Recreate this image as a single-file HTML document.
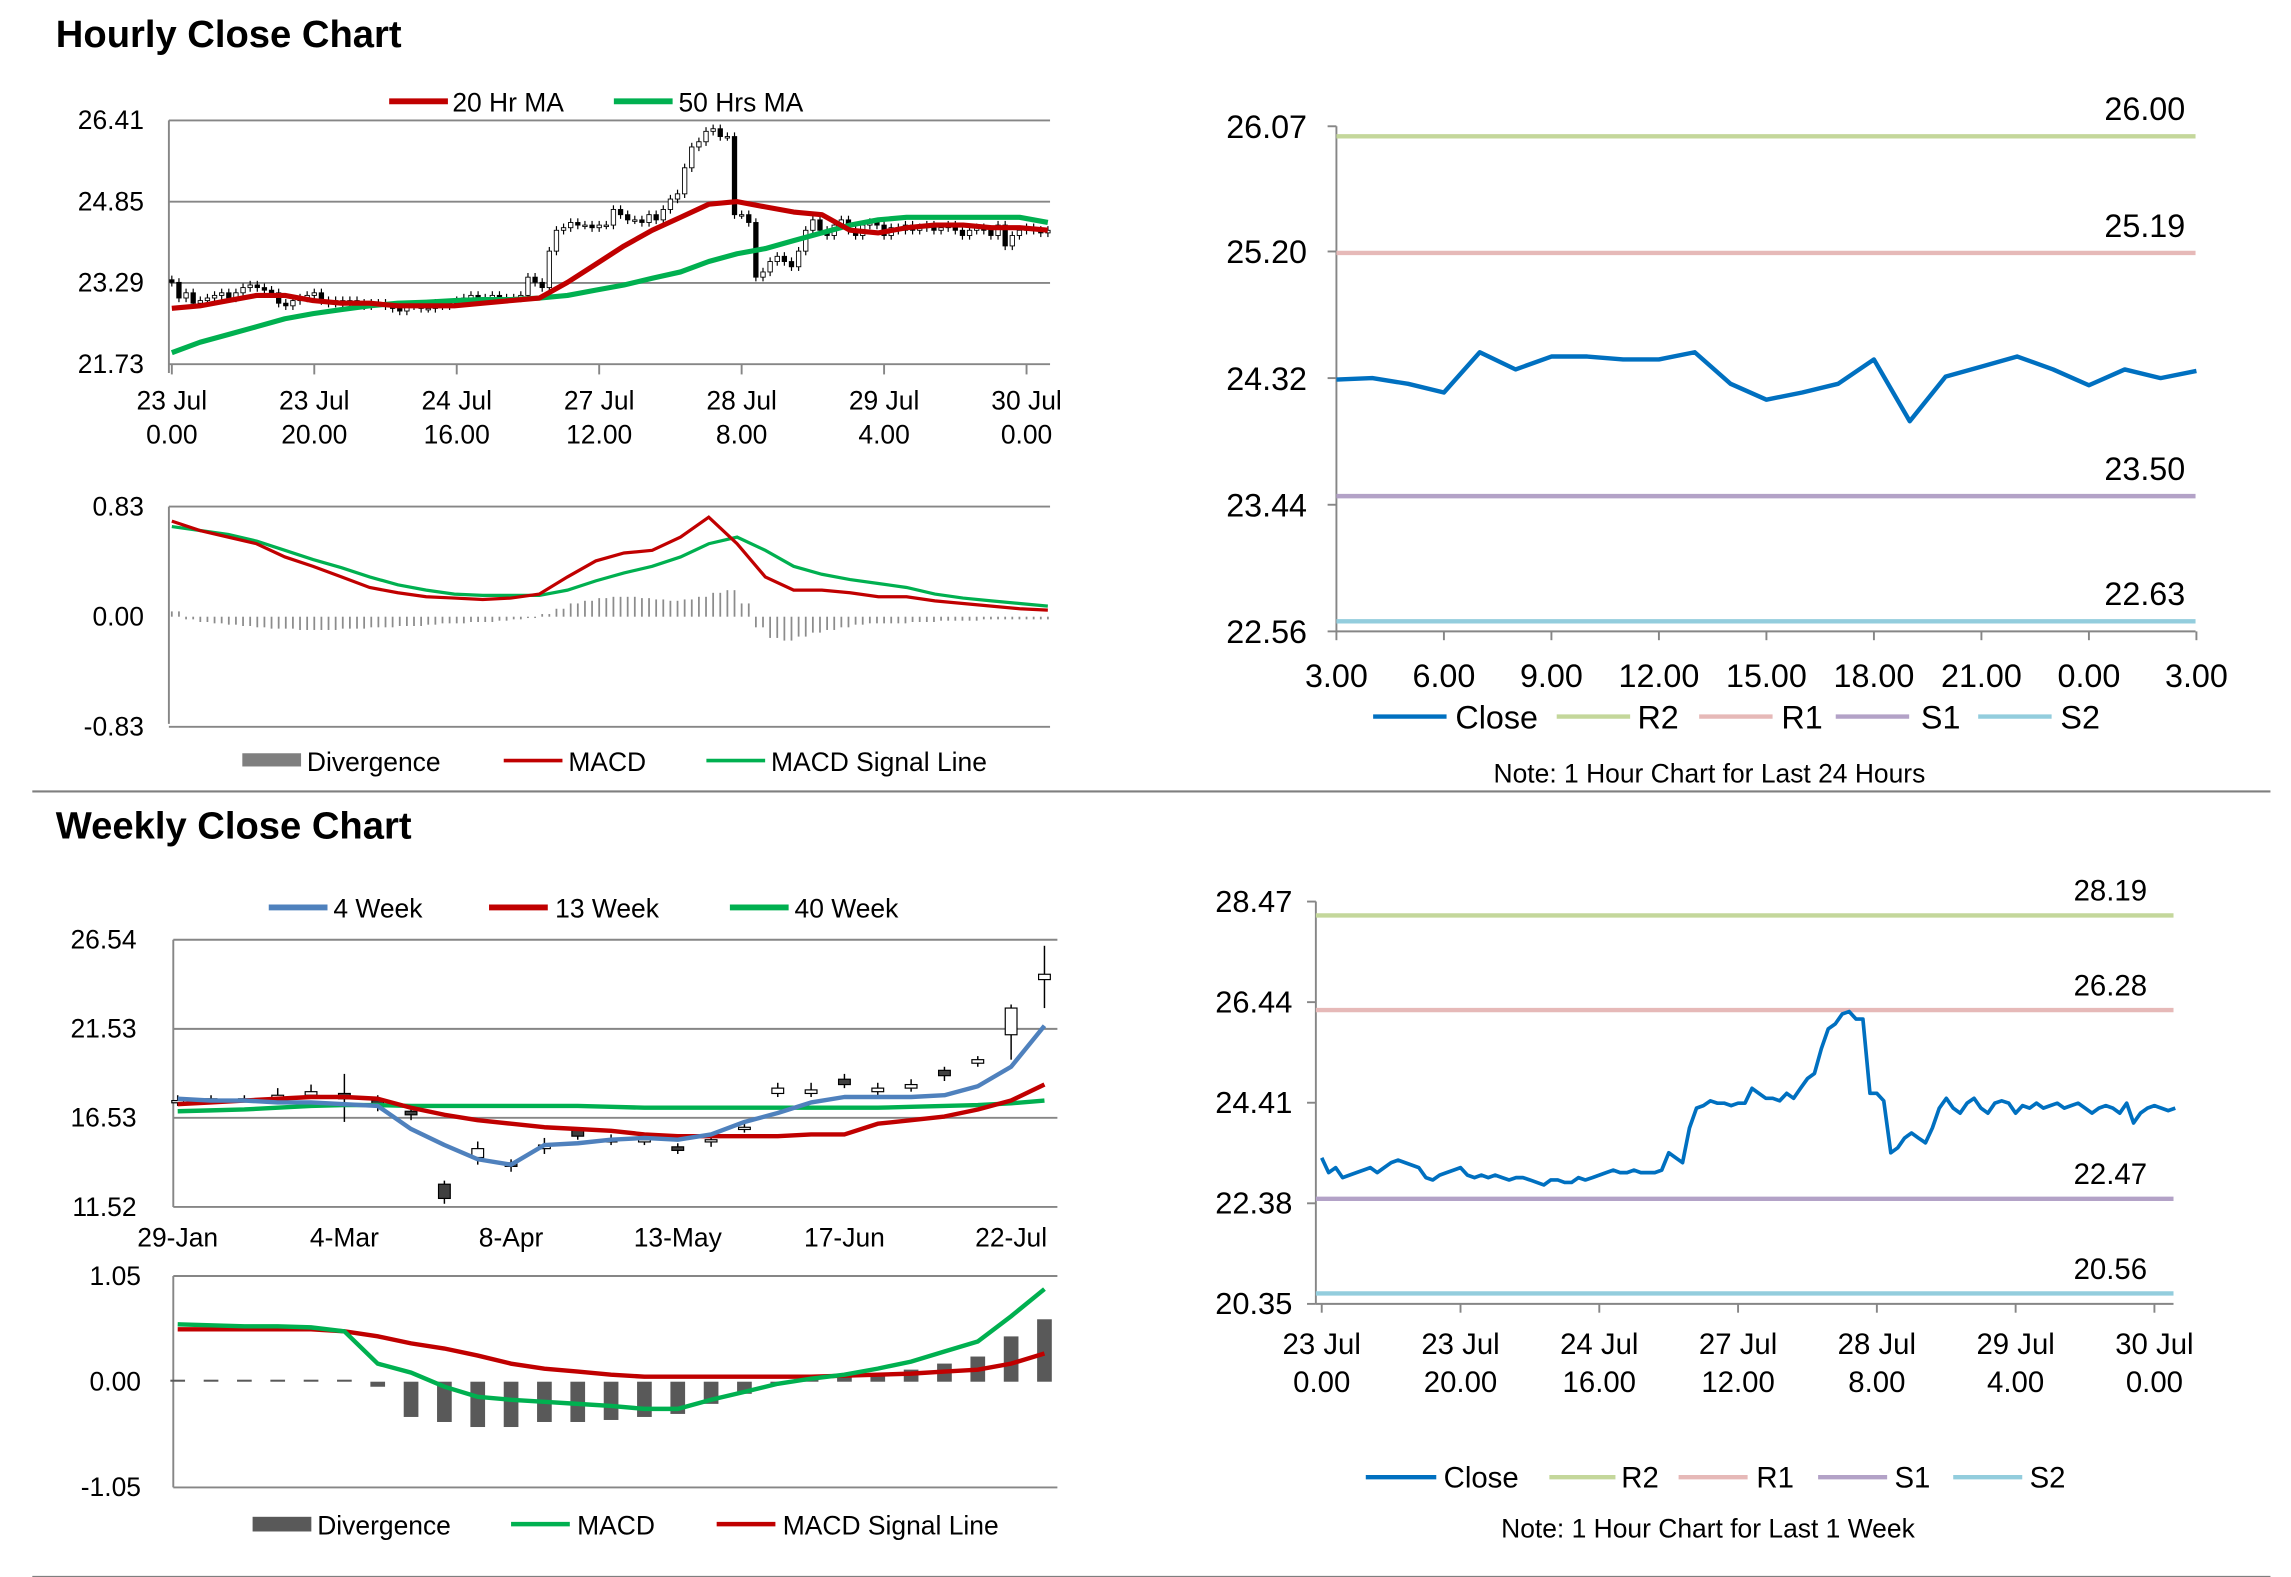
<!DOCTYPE html>
<html><head><meta charset="utf-8"><title>Close Charts</title>
<style>
html,body{margin:0;padding:0;background:#fff;}
svg{display:block;}
text{font-family:"Liberation Sans",sans-serif;fill:#000;}
</style></head>
<body>
<svg id="main" width="2291" height="1577" viewBox="0 0 1560 1074" preserveAspectRatio="none" xmlns="http://www.w3.org/2000/svg">
<rect x="0" y="0" width="1560" height="1074" fill="#fff"/>
<text x="38" y="32" font-size="26" font-weight="bold">Hourly Close Chart</text>
<text x="38" y="571" font-size="26" font-weight="bold">Weekly Close Chart</text>
<line x1="22" y1="539" x2="1546" y2="539" stroke="#7f7f7f" stroke-width="1.5"/>
<line x1="22" y1="1074" x2="1546" y2="1074" stroke="#7f7f7f" stroke-width="1.5"/>

<g>
<line x1="265" y1="69" x2="305" y2="69" stroke="#c00000" stroke-width="4"/><text x="308" y="76" font-size="18">20 Hr MA</text>
<line x1="418" y1="69" x2="458" y2="69" stroke="#00b050" stroke-width="4"/><text x="462" y="76" font-size="18">50 Hrs MA</text>
</g>
<g>
<rect x="165" y="513" width="40" height="9" fill="#7f7f7f"/><text x="209" y="525" font-size="18">Divergence</text>
<line x1="343" y1="518" x2="383" y2="518" stroke="#c00000" stroke-width="2.5"/><text x="387" y="525" font-size="18">MACD</text>
<line x1="481" y1="518" x2="521" y2="518" stroke="#00b050" stroke-width="2.5"/><text x="525" y="525" font-size="18">MACD Signal Line</text>
</g>
<g font-size="22">
<line x1="935" y1="488" x2="985" y2="488" stroke="#0070c0" stroke-width="3"/><text x="991" y="496">Close</text>
<line x1="1060" y1="488" x2="1110" y2="488" stroke="#c4d79b" stroke-width="3"/><text x="1115" y="496">R2</text>
<line x1="1157" y1="488" x2="1207" y2="488" stroke="#e6b9b8" stroke-width="3"/><text x="1213" y="496">R1</text>
<line x1="1250" y1="488" x2="1300" y2="488" stroke="#b3a2c7" stroke-width="3"/><text x="1308" y="496">S1</text>
<line x1="1347" y1="488" x2="1397" y2="488" stroke="#93cddd" stroke-width="3"/><text x="1403" y="496">S2</text>
</g>
<text x="1164" y="533" font-size="18" text-anchor="middle">Note: 1 Hour Chart for Last 24 Hours</text>

<g>
<line x1="183" y1="618" x2="223" y2="618" stroke="#4f81bd" stroke-width="4"/><text x="227" y="625" font-size="18">4 Week</text>
<line x1="333" y1="618" x2="373" y2="618" stroke="#c00000" stroke-width="4"/><text x="378" y="625" font-size="18">13 Week</text>
<line x1="497" y1="618" x2="537" y2="618" stroke="#00b050" stroke-width="4"/><text x="541" y="625" font-size="18">40 Week</text>
</g>
<g>
<rect x="172" y="1033" width="40" height="10" fill="#595959"/><text x="216" y="1045" font-size="18">Divergence</text>
<line x1="348" y1="1038" x2="388" y2="1038" stroke="#00b050" stroke-width="3"/><text x="393" y="1045" font-size="18">MACD</text>
<line x1="488" y1="1038" x2="528" y2="1038" stroke="#c00000" stroke-width="3"/><text x="533" y="1045" font-size="18">MACD Signal Line</text>
</g>
<g font-size="20">
<line x1="930" y1="1006" x2="978" y2="1006" stroke="#0070c0" stroke-width="3"/><text x="983" y="1013">Close</text>
<line x1="1055" y1="1006" x2="1100" y2="1006" stroke="#c4d79b" stroke-width="3"/><text x="1104" y="1013">R2</text>
<line x1="1143" y1="1006" x2="1190" y2="1006" stroke="#e6b9b8" stroke-width="3"/><text x="1196" y="1013">R1</text>
<line x1="1238" y1="1006" x2="1285" y2="1006" stroke="#b3a2c7" stroke-width="3"/><text x="1290" y="1013">S1</text>
<line x1="1330" y1="1006" x2="1377" y2="1006" stroke="#93cddd" stroke-width="3"/><text x="1382" y="1013">S2</text>
</g>
<text x="1163" y="1047" font-size="18" text-anchor="middle">Note: 1 Hour Chart for Last 1 Week</text>
</svg>
<script>
// ---------- data ----------
const hourLabels1 = ["23 Jul","23 Jul","24 Jul","27 Jul","28 Jul","29 Jul","30 Jul"];
const hourLabels2 = ["0.00","20.00","16.00","12.00","8.00","4.00","0.00"];
const hourlyClose = [23.3,23.0,23.1,22.9,22.95,23.0,23.05,23.1,23.0,23.1,
23.2,23.25,23.2,23.15,23.1,22.9,22.85,22.95,23.0,23.05,
23.1,22.95,22.9,22.95,22.9,22.95,22.9,22.85,22.9,22.9,
22.85,22.8,22.75,22.85,22.85,22.8,22.8,22.9,22.85,22.9,
22.95,23.0,23.05,23.0,23.0,23.05,23.0,23.0,23.0,23.05,
23.4,23.3,23.2,23.9,24.3,24.35,24.45,24.4,24.4,24.35,
24.4,24.4,24.7,24.6,24.5,24.5,24.45,24.6,24.5,24.7,
24.9,25.0,25.5,25.9,26.0,26.2,26.25,26.1,26.1,24.6,
24.6,24.45,23.4,23.5,23.7,23.8,23.7,23.6,23.9,24.3,
24.5,24.3,24.2,24.4,24.5,24.3,24.2,24.4,24.45,24.4,
24.2,24.35,24.3,24.4,24.3,24.35,24.4,24.3,24.35,24.4,
24.3,24.2,24.3,24.35,24.3,24.2,24.4,24.0,24.2,24.3,
24.35,24.3,24.25,24.3];
const ma20 = [22.8,22.85,22.95,23.05,23.05,22.95,22.9,22.9,22.85,22.85,22.85,22.9,22.95,23.0,23.3,23.65,24.0,24.3,24.55,24.8,24.85,24.75,24.65,24.6,24.3,24.25,24.35,24.4,24.4,24.35,24.35,24.3];
const ma50 = [21.95,22.15,22.3,22.45,22.6,22.7,22.78,22.85,22.9,22.92,22.95,22.97,22.97,23.0,23.05,23.15,23.25,23.38,23.5,23.7,23.85,23.95,24.1,24.25,24.4,24.5,24.55,24.55,24.55,24.55,24.55,24.45];
const hMacd = [0.72,0.65,0.6,0.55,0.45,0.38,0.3,0.22,0.18,0.15,0.14,0.13,0.14,0.17,0.3,0.42,0.48,0.5,0.6,0.75,0.55,0.3,0.2,0.2,0.18,0.15,0.15,0.12,0.1,0.08,0.06,0.05];
const hSignal = [0.68,0.65,0.62,0.57,0.5,0.43,0.37,0.3,0.24,0.2,0.17,0.16,0.16,0.16,0.2,0.27,0.33,0.38,0.45,0.55,0.6,0.5,0.38,0.32,0.28,0.25,0.22,0.17,0.14,0.12,0.1,0.08];
const hDiv = [0.04,-0.02,-0.04,-0.05,-0.06,-0.07,-0.08,-0.09,-0.09,-0.1,-0.1,
-0.1,-0.09,-0.09,-0.08,-0.08,-0.07,-0.07,-0.06,-0.05,-0.05,
-0.04,-0.04,-0.03,-0.02,-0.01,0.02,0.06,0.1,0.12,0.14,
0.15,0.15,0.14,0.13,0.12,0.13,0.15,0.18,0.2,0.1,
-0.08,-0.16,-0.18,-0.15,-0.12,-0.1,-0.08,-0.06,-0.05,-0.05,
-0.05,-0.04,-0.04,-0.03,-0.03,-0.03,-0.02,-0.02,-0.02,-0.02,-0.02];
const priceTicks = [26.41,24.85,23.29,21.73];
const hMacdTicks = [0.83,0.00,-0.83];

const dayLabels = ["3.00","6.00","9.00","12.00","15.00","18.00","21.00","0.00","3.00"];
const dayTicks = [26.07,25.20,24.32,23.44,22.56];
const dayClose = [24.31,24.32,24.28,24.22,24.5,24.38,24.47,24.47,24.45,24.45,24.5,24.28,24.17,24.22,24.28,24.45,24.02,24.33,24.4,24.47,24.38,24.27,24.38,24.32,24.37];
const dayLevels = [26.00,25.19,23.50,22.63];
const levelNames = ["R2","R1","S1","S2"];

const weekLabels = ["29-Jan","4-Mar","8-Apr","13-May","17-Jun","22-Jul"];
const weekTicks = [26.54,21.53,16.53,11.52];
const wOpen = [17.4,17.5,17.6,17.6,17.8,17.9,17.5,16.9,12.8,14.3,14.0,14.8,15.9,15.2,15.2,14.9,15.2,15.9,17.9,17.9,18.7,18.0,18.2,19.2,19.6,21.2,24.3];
const wClose = [17.5,17.6,17.6,17.8,18.0,17.6,17.3,16.7,12.0,14.8,13.8,15.0,15.5,15.3,15.3,14.7,15.3,16.0,18.2,18.1,18.4,18.2,18.4,18.9,19.8,22.7,24.6];
const wHigh = [17.8,17.8,17.8,18.2,18.4,19.0,17.8,17.0,13.0,15.2,14.2,15.4,16.0,15.6,15.6,15.1,15.6,16.3,18.5,18.5,19.0,18.5,18.7,19.4,20.0,22.9,26.2];
const wLow = [17.2,17.3,17.4,17.4,17.6,16.3,16.9,16.4,11.7,13.9,13.5,14.5,15.3,15.0,15.0,14.5,14.9,15.7,17.7,17.7,18.2,17.8,18.0,18.6,19.4,19.8,22.7];
const wk4 = [17.6,17.5,17.5,17.4,17.4,17.3,17.2,15.9,15.0,14.2,13.9,15.0,15.1,15.3,15.4,15.3,15.6,16.3,16.8,17.4,17.7,17.7,17.7,17.8,18.3,19.4,21.7];
const wk13 = [17.3,17.4,17.5,17.6,17.7,17.7,17.6,17.1,16.7,16.4,16.2,16.0,15.9,15.8,15.6,15.5,15.5,15.5,15.5,15.6,15.6,16.2,16.4,16.6,17.0,17.5,18.4];
const wk40 = [16.9,16.95,17.0,17.1,17.2,17.25,17.25,17.2,17.2,17.2,17.2,17.2,17.2,17.15,17.1,17.1,17.1,17.1,17.1,17.1,17.1,17.1,17.15,17.2,17.25,17.35,17.5];
const wMacdTicks = [1.05,0.00,-1.05];
const wMacd = [0.57,0.56,0.55,0.55,0.54,0.5,0.18,0.09,-0.05,-0.15,-0.18,-0.2,-0.22,-0.24,-0.27,-0.27,-0.18,-0.1,-0.02,0.03,0.07,0.13,0.2,0.3,0.4,0.65,0.92];
const wSignal = [0.52,0.52,0.52,0.52,0.52,0.5,0.45,0.38,0.33,0.26,0.18,0.13,0.1,0.07,0.05,0.05,0.05,0.05,0.05,0.05,0.06,0.07,0.08,0.1,0.12,0.18,0.28];
const wDiv = [0.02,0.02,0.02,0.02,0.02,0.02,-0.05,-0.35,-0.4,-0.45,-0.45,-0.4,-0.4,-0.38,-0.35,-0.32,-0.22,-0.12,-0.02,0.02,0.05,0.08,0.12,0.18,0.25,0.45,0.62];

const weekHourLabels1 = ["23 Jul","23 Jul","24 Jul","27 Jul","28 Jul","29 Jul","30 Jul"];
const weekHourLabels2 = ["0.00","20.00","16.00","12.00","8.00","4.00","0.00"];
const weekHourTicks = [28.47,26.44,24.41,22.38,20.35];
const weekLevels = [28.19,26.28,22.47,20.56];

// ---------- helpers ----------
const NS = "http://www.w3.org/2000/svg";
const svg = document.getElementById('main');
function mk(tag, attrs, parent){
  const e = document.createElementNS(NS, tag);
  for (const k in attrs) e.setAttribute(k, attrs[k]);
  (parent || svg).appendChild(e);
  return e;
}
function poly(pts){ return pts.map(p => p[0].toFixed(1)+','+p[1].toFixed(1)).join(' '); }
const levelColors = ["#c4d79b","#e6b9b8","#b3a2c7","#93cddd"];

// ---------- TL hourly price ----------
const tlX = h => 117 + h * 4.85;
const tlY = v => 82 + (26.41 - v) * (166 / 4.68);
priceTicks.forEach((t, i) => {
  const g = mk('line', {x1:115, x2:715, y1:tlY(t), y2:tlY(t), stroke:'#868686', 'stroke-width':1.3});
  
  
  const tx = mk('text', {x:98, y:tlY(t)+6, 'font-size':18, 'text-anchor':'end'});
  tx.textContent = t.toFixed(2);
  
  
});
let ax = mk('line', {x1:115, x2:115, y1:82, y2:254, stroke:'#868686', 'stroke-width':1.3});


hourLabels1.forEach((l, i) => {
  const x = tlX(i * 20);
  const tk = mk('line', {x1:x, x2:x, y1:248, y2:255, stroke:'#868686', 'stroke-width':1.3});
  
  
  const t1 = mk('text', {x:x, y:279, 'font-size':18, 'text-anchor':'middle'});
  t1.textContent = l;
  
  
  const t2 = mk('text', {x:x, y:302, 'font-size':18, 'text-anchor':'middle'});
  t2.textContent = hourLabels2[i];
  
  
});
hourlyClose.forEach((c, h) => {
  const o = h === 0 ? 23.35 : hourlyClose[h-1];
  const hi = Math.max(o, c) + 0.08, lo = Math.min(o, c) - 0.08;
  const x = tlX(h);
  const w = mk('line', {x1:x, x2:x, y1:tlY(hi), y2:tlY(lo), stroke:'#000', 'stroke-width':0.8});
  
  
  const top = tlY(Math.max(o, c)), bh = Math.max(1, Math.abs(tlY(o) - tlY(c)));
  const b = mk('rect', {x:x-1.5, y:top, width:3, height:bh, fill: c >= o ? '#fff' : '#000', stroke:'#000', 'stroke-width':0.6});
  
  
});
const maX = i => tlX(i * 123 / 31);
let l1 = mk('polyline', {points: poly(ma50.map((v,i)=>[maX(i), tlY(v)])), fill:'none', stroke:'#00b050', 'stroke-width':3.5, 'stroke-linejoin':'round'});


let l2 = mk('polyline', {points: poly(ma20.map((v,i)=>[maX(i), tlY(v)])), fill:'none', stroke:'#c00000', 'stroke-width':3.5, 'stroke-linejoin':'round'});



// ---------- TL hourly MACD ----------
const hmY = v => 420 - v * (75 / 0.83);
hMacdTicks.forEach(t => {
  if (t !== 0) {
    const g = mk('line', {x1:115, x2:715, y1:hmY(t), y2:hmY(t), stroke:'#868686', 'stroke-width':1.3});
    
    
  }
  const tx = mk('text', {x:98, y:hmY(t)+6, 'font-size':18, 'text-anchor':'end'});
  tx.textContent = t.toFixed(2);
  
  
});
ax = mk('line', {x1:115, x2:115, y1:345, y2:493, stroke:'#868686', 'stroke-width':1.3});


hDiv.forEach((v, i) => {
  for (let k = 0; k < 2; k++) {
    const x = tlX(i * 2 + k);
    if (x > 714) continue;
    const b = mk('line', {x1:x, x2:x, y1:hmY(0), y2:hmY(v), stroke:'#8c8c8c', 'stroke-width':1.2});
    
    
  }
});
l1 = mk('polyline', {points: poly(hSignal.map((v,i)=>[maX(i), hmY(v)])), fill:'none', stroke:'#00b050', 'stroke-width':2.2});


l2 = mk('polyline', {points: poly(hMacd.map((v,i)=>[maX(i), hmY(v)])), fill:'none', stroke:'#c00000', 'stroke-width':2.2});



// ---------- TR day chart ----------
const trX = h => 910 + h * 24.4;
const trY = v => 86 + (26.07 - v) * (344 / 3.51);
dayTicks.forEach(t => {
  const tk = mk('line', {x1:904, x2:910, y1:trY(t), y2:trY(t), stroke:'#868686', 'stroke-width':1.3});
  
  
  const tx = mk('text', {x:890, y:trY(t)+8, 'font-size':22, 'text-anchor':'end'});
  tx.textContent = t.toFixed(2);
  
  
});
ax = mk('line', {x1:910, x2:910, y1:86, y2:430, stroke:'#868686', 'stroke-width':1.3});


ax = mk('line', {x1:910, x2:1495, y1:430, y2:430, stroke:'#868686', 'stroke-width':1.3});


dayLabels.forEach((l, i) => {
  const x = trX(i * 3);
  const tk = mk('line', {x1:x, x2:x, y1:430, y2:436, stroke:'#868686', 'stroke-width':1.3});
  
  
  const tx = mk('text', {x:x, y:468, 'font-size':22, 'text-anchor':'middle'});
  tx.textContent = l;
  
  
});
dayLevels.forEach((v, i) => {
  const ln = mk('line', {x1:910, x2:1495, y1:trY(v), y2:trY(v), stroke:levelColors[i], 'stroke-width':3});
  
  
  const tx = mk('text', {x:1488, y:trY(v)-11, 'font-size':22, 'text-anchor':'end'});
  tx.textContent = v.toFixed(2);
  
  
});
l1 = mk('polyline', {points: poly(dayClose.map((v,i)=>[trX(i), trY(v)])), fill:'none', stroke:'#0070c0', 'stroke-width':3, 'stroke-linejoin':'round'});



// ---------- BL weekly price ----------
const blX = k => 121 + k * 22.7;
const blY = v => 640 + (26.54 - v) * (182 / 15.02);
weekTicks.forEach(t => {
  const g = mk('line', {x1:118, x2:720, y1:blY(t), y2:blY(t), stroke:'#868686', 'stroke-width':1.3});
  
  
  const tx = mk('text', {x:93, y:blY(t)+6, 'font-size':18, 'text-anchor':'end'});
  tx.textContent = t.toFixed(2);
  
  
});
ax = mk('line', {x1:118, x2:118, y1:640, y2:822, stroke:'#868686', 'stroke-width':1.3});


weekLabels.forEach((l, i) => {
  const x = blX(i * 5);
  const tx = mk('text', {x:x, y:849, 'font-size':18, 'text-anchor':'middle'});
  tx.textContent = l;
  
  
});
wClose.forEach((c, k) => {
  const o = wOpen[k], x = blX(k);
  const w = mk('line', {x1:x, x2:x, y1:blY(wHigh[k]), y2:blY(wLow[k]), stroke:'#000', 'stroke-width':1});
  
  
  const top = blY(Math.max(o, c)), bh = Math.max(1.5, Math.abs(blY(o) - blY(c)));
  const b = mk('rect', {x:x-4, y:top, width:8, height:bh, fill: c >= o ? '#fff' : '#404040', stroke:'#000', 'stroke-width':0.8});
  
  
});
[[wk40,'#00b050','week-40-ma-line'],[wk13,'#c00000','week-13-ma-line'],[wk4,'#4f81bd','week-4-ma-line']].forEach(s => {
  const p = mk('polyline', {points: poly(s[0].map((v,k)=>[blX(k), blY(v)])), fill:'none', stroke:s[1], 'stroke-width':3, 'stroke-linejoin':'round'});
  
  
});

// ---------- BL weekly MACD ----------
const wmY = v => 941 - v * (72 / 1.05);
wMacdTicks.forEach(t => {
  if (t !== 0) {
    const g = mk('line', {x1:118, x2:720, y1:wmY(t), y2:wmY(t), stroke:'#868686', 'stroke-width':1.3});
    
    
  }
  const tx = mk('text', {x:96, y:wmY(t)+6, 'font-size':18, 'text-anchor':'end'});
  tx.textContent = t.toFixed(2);
  
  
});
ax = mk('line', {x1:118, x2:118, y1:869, y2:1013, stroke:'#868686', 'stroke-width':1.3});


wDiv.forEach((v, k) => {
  const y0 = wmY(0), y1 = wmY(v);
  const b = mk('rect', {x:blX(k)-5, y:Math.min(y0,y1), width:10, height:Math.max(1, Math.abs(y1-y0)), fill:'#595959'});
  
  
});
l1 = mk('polyline', {points: poly(wSignal.map((v,k)=>[blX(k), wmY(v)])), fill:'none', stroke:'#c00000', 'stroke-width':3});


l2 = mk('polyline', {points: poly(wMacd.map((v,k)=>[blX(k), wmY(v)])), fill:'none', stroke:'#00b050', 'stroke-width':3});



// ---------- BR week hourly ----------
const brX = h => 900 + h * 4.725;
const brY = v => 614 + (28.47 - v) * (274 / 8.12);
weekHourTicks.forEach(t => {
  const tk = mk('line', {x1:890, x2:896, y1:brY(t), y2:brY(t), stroke:'#868686', 'stroke-width':1.3});
  
  
  const tx = mk('text', {x:880, y:brY(t)+7, 'font-size':21, 'text-anchor':'end'});
  tx.textContent = t.toFixed(2);
  
  
});
ax = mk('line', {x1:896, x2:896, y1:614, y2:888, stroke:'#868686', 'stroke-width':1.3});


ax = mk('line', {x1:896, x2:1480, y1:888, y2:888, stroke:'#868686', 'stroke-width':1.3});


weekHourLabels1.forEach((l, i) => {
  const x = brX(i * 20);
  const tk = mk('line', {x1:x, x2:x, y1:888, y2:894, stroke:'#868686', 'stroke-width':1.3});
  
  
  const t1 = mk('text', {x:x, y:922, 'font-size':20, 'text-anchor':'middle'});
  t1.textContent = l;
  
  
  const t2 = mk('text', {x:x, y:948, 'font-size':20, 'text-anchor':'middle'});
  t2.textContent = weekHourLabels2[i];
  
  
});
weekLevels.forEach((v, i) => {
  const ln = mk('line', {x1:896, x2:1480, y1:brY(v), y2:brY(v), stroke:levelColors[i], 'stroke-width':3});
  
  
  const tx = mk('text', {x:1462, y:brY(v)-10, 'font-size':20, 'text-anchor':'end'});
  tx.textContent = v.toFixed(2);
  
  
});
l1 = mk('polyline', {points: poly(hourlyClose.map((v,h)=>[brX(h), brY(v)])), fill:'none', stroke:'#0070c0', 'stroke-width':2.5, 'stroke-linejoin':'round'});


</script>
</body></html>
